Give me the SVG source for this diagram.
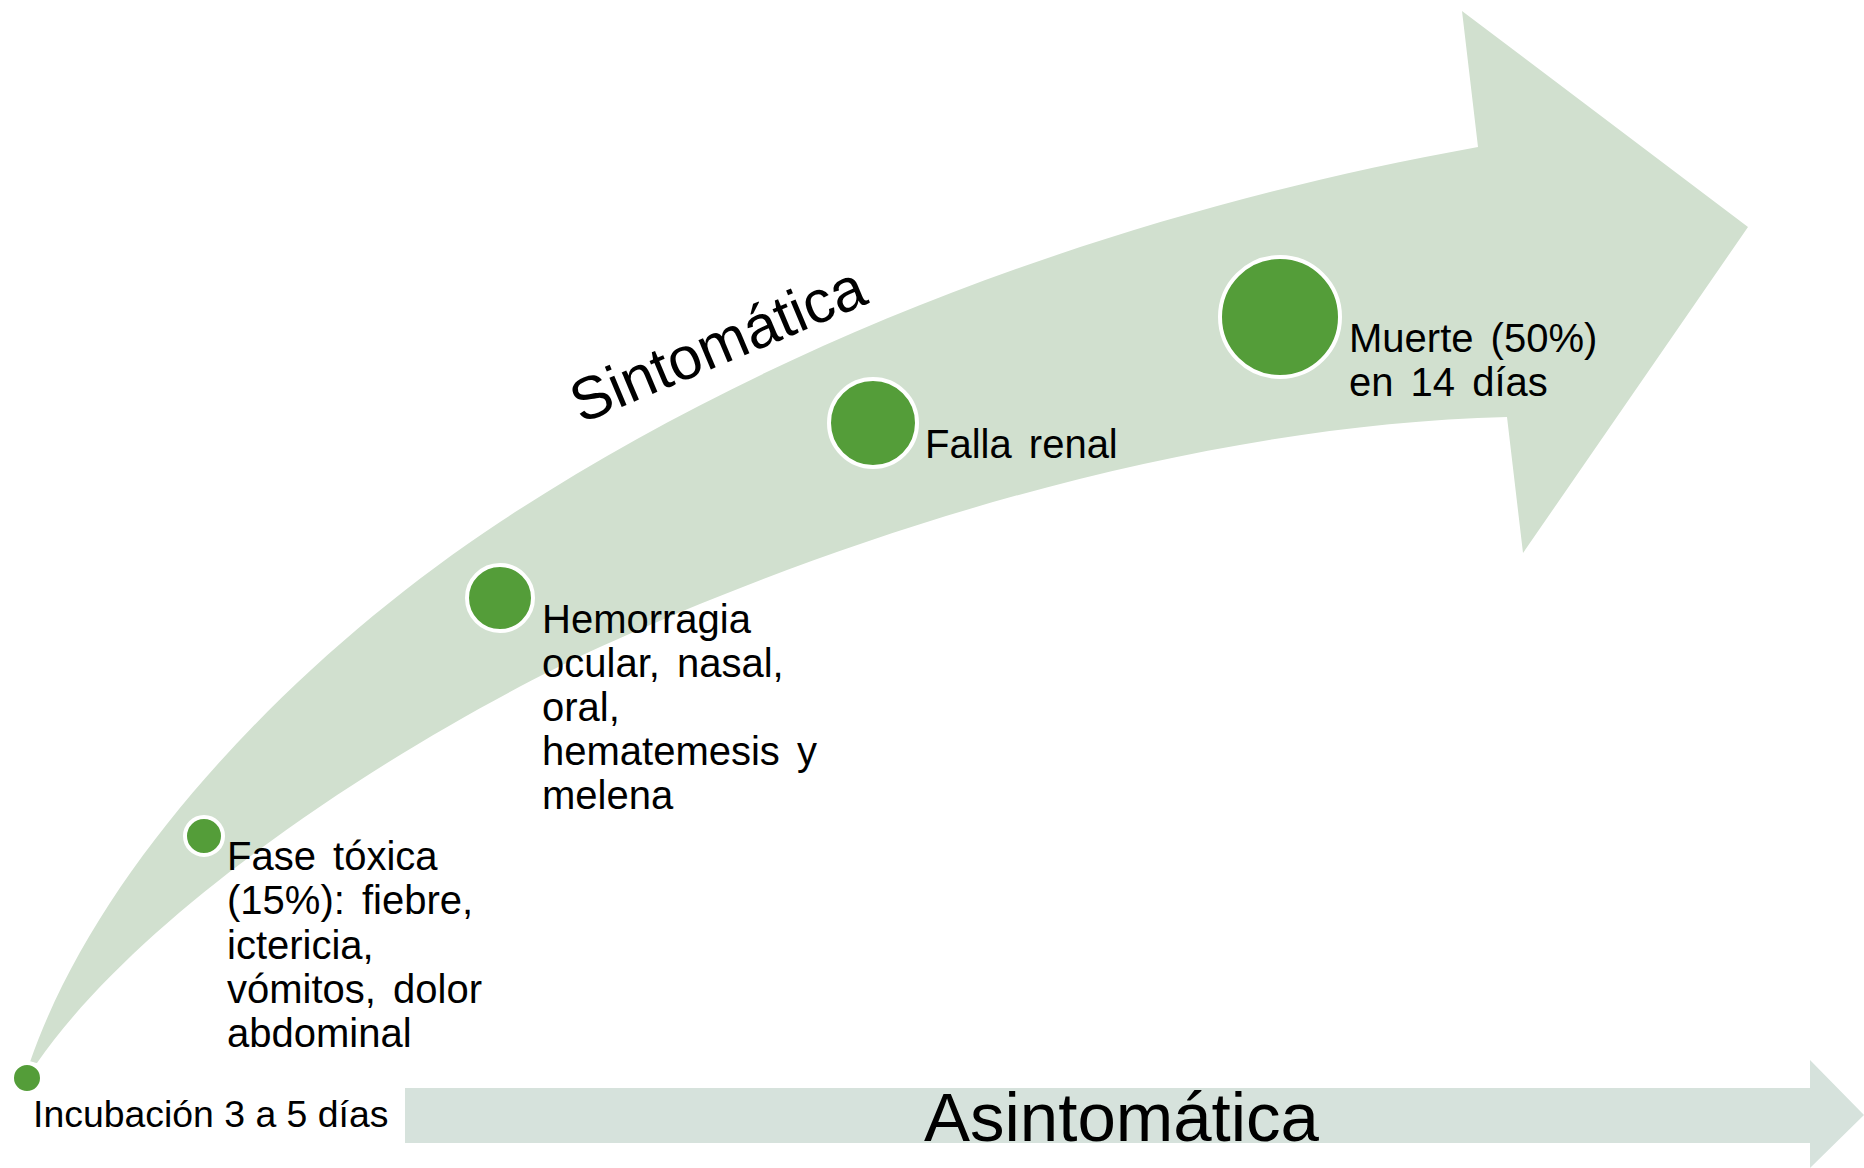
<svg xmlns="http://www.w3.org/2000/svg" width="1864" height="1168" viewBox="0 0 1864 1168">
<style>
  .band { fill: #d1e0cf; }
  .base { fill: #d6e2dc; }
  .dot { fill: #549d39; stroke: #ffffff; stroke-width: 4; }
  .lbl { font-family: "Liberation Sans", Arial, sans-serif; font-size: 40px; fill: #000000; word-spacing: 6px; }
  .big { font-family: "Liberation Sans", Arial, sans-serif; fill: #000000; }
</style>
<rect width="1864" height="1168" fill="#ffffff"/>
<g id="connectors">
  <path id="arrow-sintomatica" class="band" d="M 30 1062 C 100 860 300 654 500 522 C 760 350 1100 215 1478 147 L 1462 11 L 1748 227 L 1523 553 L 1507 417 C 1200 425 870 525 600 647 C 420 730 150 900 37 1063 Z"/>
  <path id="arrow-asintomatica" class="base" d="M 405 1088 H 1810 V 1060 L 1864 1115 L 1810 1168 V 1143 H 405 Z"/>
</g>
<g id="label-sintomatica">
  <text class="big" x="581" y="424" font-size="60" transform="rotate(-22.8 581 424)">Sintomática</text>
</g>
<g id="label-asintomatica">
  <text class="big" x="924" y="1141" font-size="69">Asintomática</text>
</g>
<g id="node-incubacion">
  <circle class="dot" cx="27" cy="1078" r="15" stroke-width="3"/>
  <text class="big" x="33" y="1127" font-size="37.4">Incubación 3 a 5 días</text>
</g>
<g id="node-fase-toxica">
  <circle class="dot" cx="204" cy="836" r="19"/>
  <text class="lbl">
    <tspan x="227" y="870">Fase tóxica</tspan>
    <tspan x="227" y="914">(15%): fiebre,</tspan>
    <tspan x="227" y="959">ictericia,</tspan>
    <tspan x="227" y="1003">vómitos, dolor</tspan>
    <tspan x="227" y="1047">abdominal</tspan>
  </text>
</g>
<g id="node-hemorragia">
  <circle class="dot" cx="500" cy="598" r="33"/>
  <text class="lbl">
    <tspan x="542" y="633">Hemorragia</tspan>
    <tspan x="542" y="677">ocular, nasal,</tspan>
    <tspan x="542" y="721">oral,</tspan>
    <tspan x="542" y="765">hematemesis y</tspan>
    <tspan x="542" y="809">melena</tspan>
  </text>
</g>
<g id="node-falla-renal">
  <circle class="dot" cx="873" cy="423" r="44"/>
  <text class="lbl" x="925" y="458">Falla renal</text>
</g>
<g id="node-muerte">
  <circle class="dot" cx="1280" cy="317" r="60"/>
  <text class="lbl">
    <tspan x="1349" y="352">Muerte (50%)</tspan>
    <tspan x="1349" y="396">en 14 días</tspan>
  </text>
</g>
</svg>
